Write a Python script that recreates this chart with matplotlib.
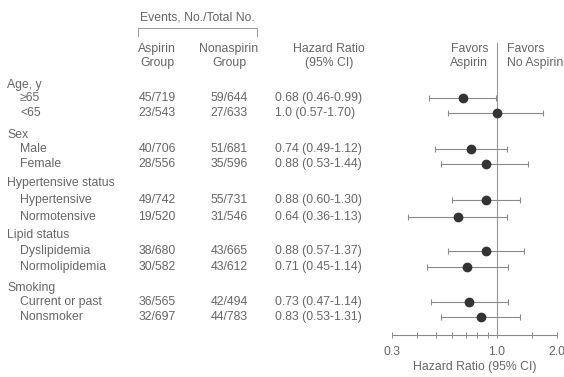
import matplotlib
matplotlib.use("Agg")
import matplotlib.pyplot as plt
from matplotlib.ticker import NullFormatter

plt.rcParams["font.family"] = ["Liberation Sans", "DejaVu Sans"]

# data
groups = ["Age, y", "Sex", "Hypertensive status", "Lipid status", "Smoking"]
subgroups = ["≥65", "<65", "Male", "Female", "Hypertensive", "Normotensive",
             "Dyslipidemia", "Normolipidemia", "Current or past", "Nonsmoker"]
aspirin_events = ["45/719", "23/543", "40/706", "28/556", "49/742",
                  "19/520", "38/680", "30/582", "36/565", "32/697"]
nonaspirin_events = ["59/644", "27/633", "51/681", "35/596", "55/731",
                     "31/546", "43/665", "43/612", "42/494", "44/783"]
hr = [0.68, 1.0, 0.74, 0.88, 0.88, 0.64, 0.88, 0.71, 0.73, 0.83]
ci_low = [0.46, 0.57, 0.49, 0.53, 0.60, 0.36, 0.57, 0.45, 0.47, 0.53]
ci_high = [0.99, 1.70, 1.12, 1.44, 1.30, 1.13, 1.37, 1.14, 1.14, 1.31]
hr_labels = ["0.68 (0.46-0.99)", "1.0 (0.57-1.70)", "0.74 (0.49-1.12)",
             "0.88 (0.53-1.44)", "0.88 (0.60-1.30)", "0.64 (0.36-1.13)",
             "0.88 (0.57-1.37)", "0.71 (0.45-1.14)", "0.73 (0.47-1.14)",
             "0.83 (0.53-1.31)"]
major_ticks = [0.3, 1.0, 2.0]
tick_labels = ["0.3", "1.0", "2.0"]
minor_ticks = [0.4, 0.5, 0.6, 0.7, 0.8, 0.9, 1.5]

# layout (pixel rows, top-down)
header_y = [85, 135, 183, 235, 288]
row_y = [98, 113, 149, 164, 200, 217, 251, 267, 302, 317]

TEXT = "#666666"
LINE = "#8a8a8a"
FS = 8.8

fig = plt.figure(figsize=(5.64, 3.77), dpi=100)
bg = fig.add_axes([0, 0, 1, 1])
bg.set_xlim(0, 564)
bg.set_ylim(377, 0)
bg.axis("off")

# column headers
bg.text(197, 18, "Events, No./Total No.", ha="center", va="center", fontsize=FS, color=TEXT)
bg.plot([138, 138, 257, 257], [36, 28, 28, 36], color="#9a9a9a", lw=0.7)
bg.text(157, 49, "Aspirin", ha="center", va="center", fontsize=FS, color=TEXT)
bg.text(157, 63, "Group", ha="center", va="center", fontsize=FS, color=TEXT)
bg.text(229, 49, "Nonaspirin", ha="center", va="center", fontsize=FS, color=TEXT)
bg.text(229, 63, "Group", ha="center", va="center", fontsize=FS, color=TEXT)
bg.text(329, 49, "Hazard Ratio", ha="center", va="center", fontsize=FS, color=TEXT)
bg.text(329, 63, "(95% CI)", ha="center", va="center", fontsize=FS, color=TEXT)
bg.text(488, 49, "Favors", ha="right", va="center", fontsize=FS, color=TEXT)
bg.text(488, 63, "Aspirin", ha="right", va="center", fontsize=FS, color=TEXT)
bg.text(507, 49, "Favors", ha="left", va="center", fontsize=FS, color=TEXT)
bg.text(507, 63, "No Aspirin", ha="left", va="center", fontsize=FS, color=TEXT)

# table body
for g, y in zip(groups, header_y):
    bg.text(7, y, g, ha="left", va="center", fontsize=FS, color=TEXT)
for i, y in enumerate(row_y):
    bg.text(20, y, subgroups[i], ha="left", va="center", fontsize=FS, color=TEXT)
    bg.text(157, y, aspirin_events[i], ha="center", va="center", fontsize=FS, color=TEXT)
    bg.text(229, y, nonaspirin_events[i], ha="center", va="center", fontsize=FS, color=TEXT)
    bg.text(275, y, hr_labels[i], ha="left", va="center", fontsize=FS, color=TEXT)

# forest panel
ax = fig.add_axes([392 / 564, (377 - 335) / 377, 165 / 564, 295 / 377])
ax.set_facecolor("none")
ax.set_xscale("log")
ax.set_xlim(0.3, 2.0)
ax.set_ylim(335, 40)
for side in ["top", "right", "left"]:
    ax.spines[side].set_visible(False)
ax.spines["bottom"].set_color(LINE)
ax.spines["bottom"].set_linewidth(0.8)
ax.set_yticks([])
ax.set_xticks(major_ticks)
ax.set_xticklabels(tick_labels)
ax.set_xticks(minor_ticks, minor=True)
ax.xaxis.set_minor_formatter(NullFormatter())
ax.tick_params(axis="x", which="both", direction="inout", length=4, width=0.7,
               color=LINE, labelcolor=TEXT, labelsize=FS, pad=6)

ax.axvline(1.0, color="#9a9a9a", lw=0.8, ymin=0, ymax=0.99)
xerr = [[h - lo for h, lo in zip(hr, ci_low)], [hi - h for h, hi in zip(hr, ci_high)]]
ax.errorbar(hr, row_y, xerr=xerr, fmt="o", ms=6, mfc="#333333", mec="#333333",
            ecolor=LINE, elinewidth=0.8, capsize=2.5, capthick=0.8)
ax.set_xlabel("Hazard Ratio (95% CI)", fontsize=FS, color=TEXT, labelpad=2)

fig.savefig("out.png", dpi=100)
